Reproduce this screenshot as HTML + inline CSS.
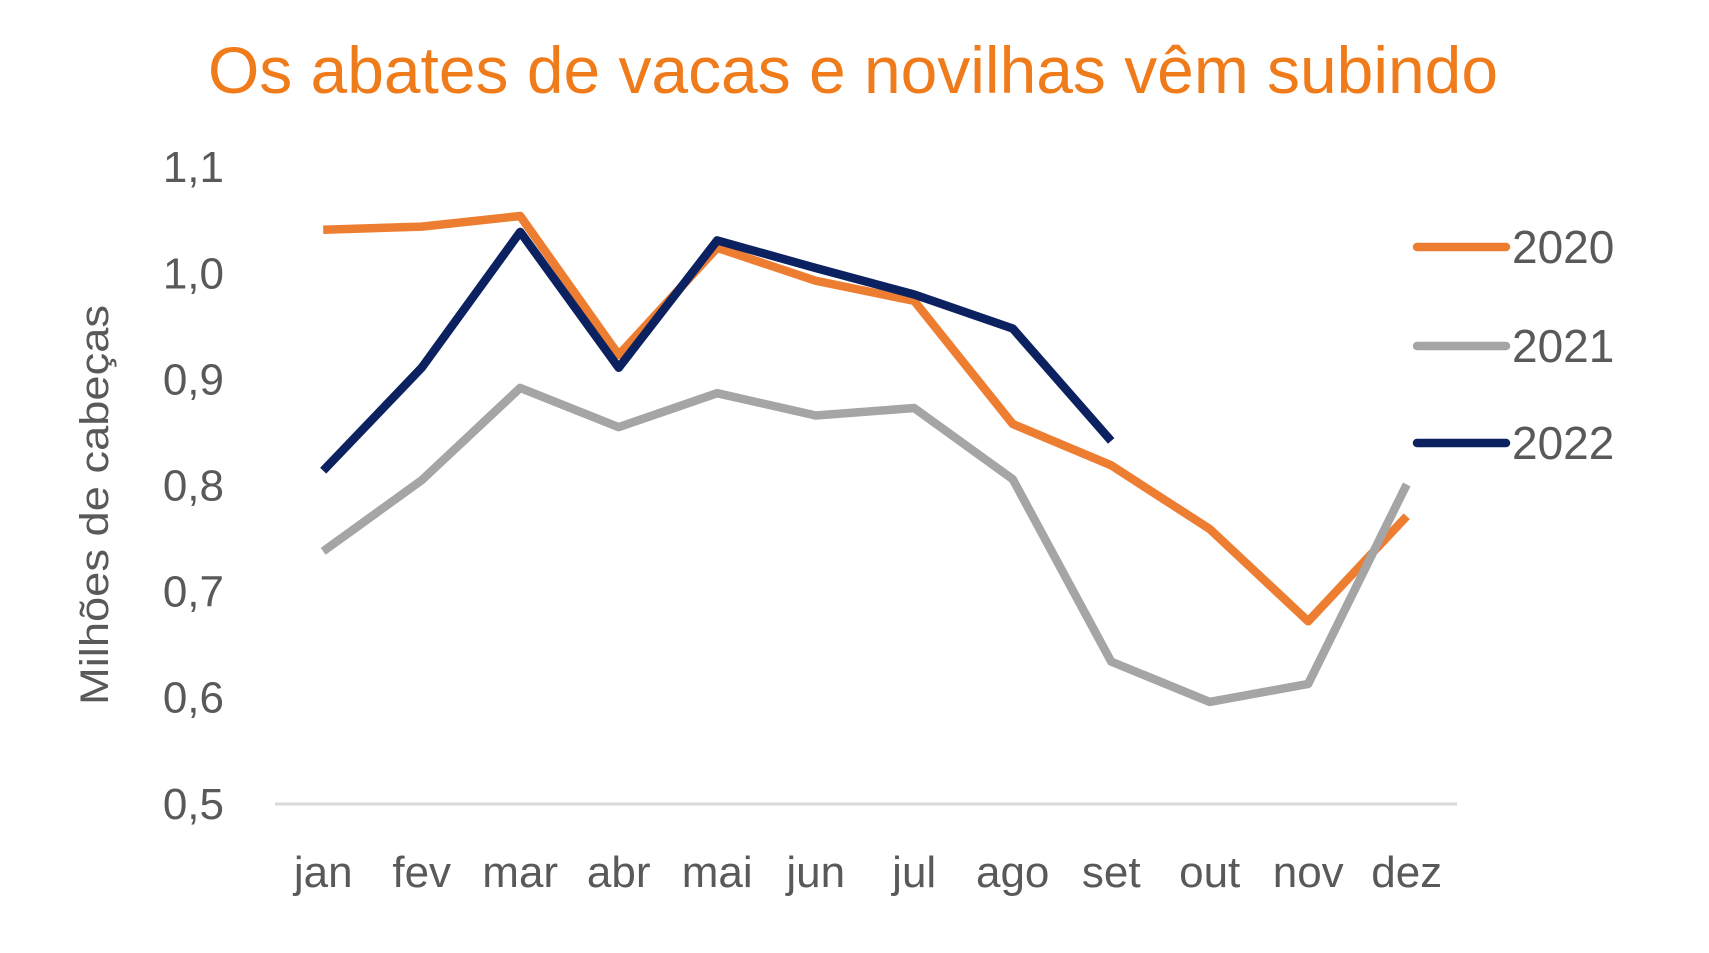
<!DOCTYPE html>
<html><head><meta charset="utf-8"><style>
html,body{margin:0;padding:0;background:#fff;width:1709px;height:953px;overflow:hidden}
svg{display:block;font-family:"Liberation Sans",sans-serif}
</style></head><body>
<svg id="chart" width="1709" height="953" viewBox="0 0 1709 953">
<text x="853" y="93" text-anchor="middle" font-size="66" fill="#F07B1B" textLength="1290" lengthAdjust="spacingAndGlyphs">Os abates de vacas e novilhas vêm subindo</text>
<text transform="translate(108,505) rotate(-90)" text-anchor="middle" font-size="40" fill="#595959" textLength="400" lengthAdjust="spacingAndGlyphs">Milhões de cabeças</text>
<line x1="275" x2="1457" y1="804" y2="804" stroke="#d9d9d9" stroke-width="3"/>
<g id="yticks"></g>
<g id="xticks"></g>
<g id="series"></g>
<g id="legend"></g>
</svg>
<script>
const months = ["jan","fev","mar","abr","mai","jun","jul","ago","set","out","nov","dez"];
const yTicks = ["0,5","0,6","0,7","0,8","0,9","1,0","1,1"];
const yTickValues = [0.5,0.6,0.7,0.8,0.9,1.0,1.1];
const seriesNames = ["2020","2021","2022"];
const v2020 = [1.041,1.044,1.054,0.923,1.024,0.993,0.974,0.858,0.819,0.759,0.672,0.771];
const v2021 = [0.738,0.805,0.892,0.855,0.887,0.866,0.873,0.806,0.634,0.596,0.613,0.801];
const v2022 = [0.814,0.911,1.039,0.911,1.031,1.005,0.980,0.948,0.842];

const NS="http://www.w3.org/2000/svg";
function x(i){return 323.2+i*98.5;}
function y(v){return 803.8-(v-0.5)*1061;}
const colors=["#ED7D31","#A5A5A5","#0B2160"];
const yt=document.getElementById('yticks');
yTicks.forEach((t,i)=>{
  const el=document.createElementNS(NS,'text');
  
  
  el.setAttribute('x',224);el.setAttribute('y',y(yTickValues[i])+15);
  el.setAttribute('text-anchor','end');el.setAttribute('font-size','44');el.setAttribute('fill','#595959');
  el.textContent=t;yt.appendChild(el);
});
const xt=document.getElementById('xticks');
months.forEach((m,i)=>{
  const el=document.createElementNS(NS,'text');
  
  
  el.setAttribute('x',x(i));el.setAttribute('y',887);
  el.setAttribute('text-anchor','middle');el.setAttribute('font-size','44');el.setAttribute('fill','#595959');
  el.textContent=m;xt.appendChild(el);
});
const sg=document.getElementById('series');
[v2020,v2021,v2022].forEach((vals,k)=>{
  const p=document.createElementNS(NS,'polyline');
  
  
  p.setAttribute('points',vals.map((v,i)=>x(i)+','+y(v)).join(' '));
  p.setAttribute('fill','none');p.setAttribute('stroke',colors[k]);p.setAttribute('stroke-width','8.5');
  p.setAttribute('stroke-linejoin','round');
  sg.appendChild(p);
});
const lg=document.getElementById('legend');
const ly=[247,346,443];
seriesNames.forEach((n,k)=>{
  const l=document.createElementNS(NS,'line');
  
  
  l.setAttribute('x1',1417);l.setAttribute('x2',1506);l.setAttribute('y1',ly[k]);l.setAttribute('y2',ly[k]);
  l.setAttribute('stroke',colors[k]);l.setAttribute('stroke-width','8.5');l.setAttribute('stroke-linecap','round');
  lg.appendChild(l);
  const t=document.createElementNS(NS,'text');
  
  
  t.setAttribute('x',1512);t.setAttribute('y',ly[k]+16);t.setAttribute('font-size','46');t.setAttribute('fill','#595959');
  t.textContent=n;lg.appendChild(t);
});
</script>
</body></html>
